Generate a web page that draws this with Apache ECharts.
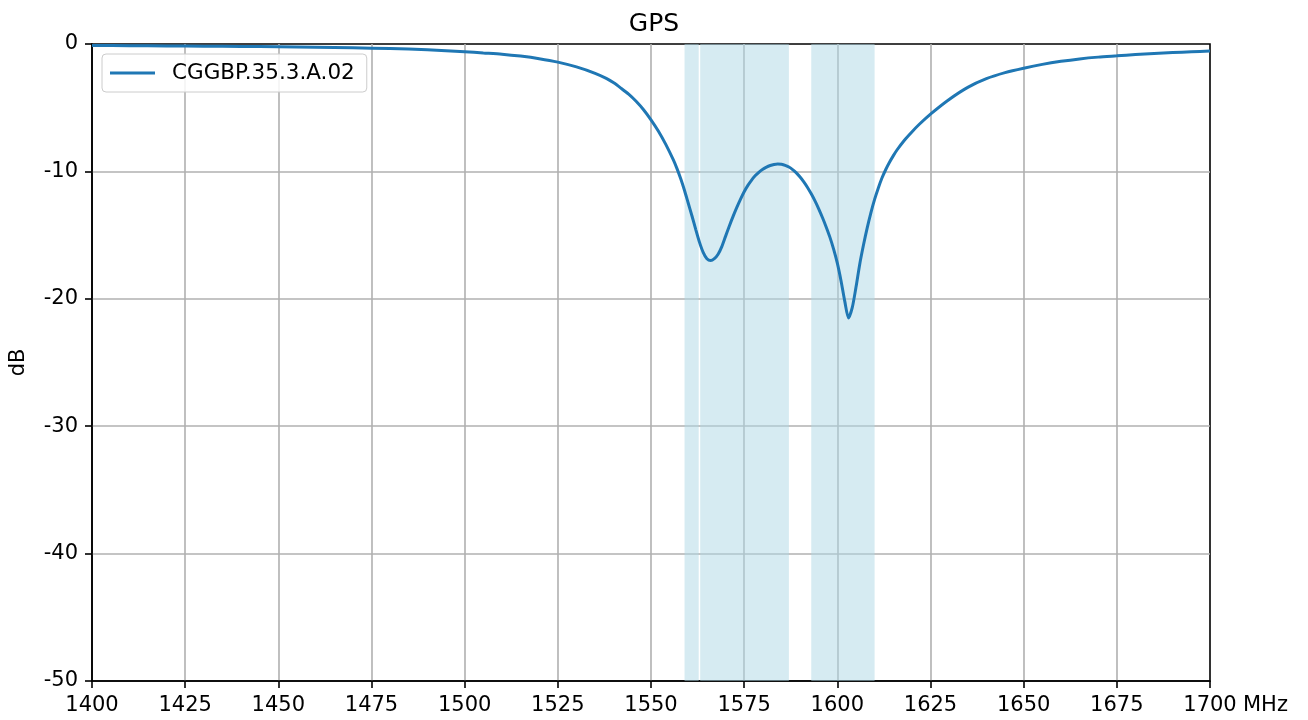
<!DOCTYPE html>
<html>
<head>
<meta charset="utf-8">
<script src="https://cdn.jsdelivr.net/npm/echarts@6/dist/echarts.min.js"></script>
<style>html,body{margin:0;padding:0;background:#fff;}#c{width:1308px;height:720px;}</style>
</head>
<body>
<div id="c"></div>
<script>
const freqs = [1400,1410,1420,1430,1440,1450,1460,1470,1480,1490,1500,1505,1510,1515,1520,1525,1530,1535,1538,1540,1542,1544,1546,1548,1550,1552,1554,1556,1557,1558,1559,1560,1561,1562,1563,1564,1565,1566,1567,1568,1569,1570,1571,1572,1573,1574,1575,1576,1577,1578,1579,1580,1581,1582,1583,1584,1585,1586,1587,1588,1589,1590,1591,1592,1593,1594,1595,1596,1597,1598,1599,1600,1601,1602,1603,1604,1605,1606,1607,1608,1609,1610,1611,1612,1613,1614,1615,1616,1618,1620,1622,1625,1630,1635,1640,1645,1650,1655,1660,1665,1670,1675,1680,1685,1690,1695,1700];
const gainDb = [-0.12,-0.13,-0.15,-0.17,-0.19,-0.21,-0.25,-0.3,-0.36,-0.45,-0.6,-0.7,-0.8,-0.95,-1.15,-1.42,-1.8,-2.3,-2.7,-3.05,-3.48,-3.94,-4.5,-5.16,-5.95,-6.85,-7.9,-9.1,-9.8,-10.6,-11.5,-12.5,-13.5,-14.55,-15.55,-16.35,-16.85,-17.0,-16.85,-16.5,-15.9,-15.1,-14.3,-13.55,-12.85,-12.2,-11.6,-11.1,-10.68,-10.33,-10.05,-9.83,-9.66,-9.54,-9.46,-9.42,-9.44,-9.52,-9.66,-9.86,-10.12,-10.44,-10.82,-11.26,-11.76,-12.32,-12.94,-13.62,-14.36,-15.16,-16.1,-17.2,-18.6,-20.2,-21.5,-20.7,-19.1,-17.3,-15.8,-14.45,-13.25,-12.2,-11.3,-10.5,-9.85,-9.28,-8.78,-8.32,-7.55,-6.9,-6.3,-5.5,-4.35,-3.4,-2.72,-2.25,-1.9,-1.6,-1.36,-1.17,-1.03,-0.93,-0.83,-0.74,-0.67,-0.61,-0.55];
const bandStarts = [1559, 1563.2, 1593];
const bandEnds = [1562.8, 1587, 1610];
const seriesName = 'CGGBP.35.3.A.02';
const titleText = 'GPS';
const xUnit = 'MHz';
const yName = 'dB';

const FONT = 'DejaVu Sans';
const chart = echarts.init(document.getElementById('c'), null, {renderer: 'canvas'});
const lineData = freqs.map((f, i) => [f, gainDb[i]]);
const areas = bandStarts.map((s, i) => [{xAxis: s}, {xAxis: bandEnds[i]}]);

chart.setOption({
  animation: false,
  backgroundColor: '#ffffff',
  title: {
    text: titleText, left: 'center', top: 7,
    textStyle: {fontFamily: FONT, fontSize: 25, fontWeight: 'normal', color: '#000'}
  },
  legend: {
    data: [{name: seriesName, icon: 'rect'}],
    left: 102, top: 54,
    itemWidth: 45, itemHeight: 3,
    padding: [8, 12, 8, 8],
    backgroundColor: 'rgba(255,255,255,0.85)',
    borderColor: '#cccccc', borderWidth: 1, borderRadius: 4,
    textStyle: {fontFamily: FONT, fontSize: 21.5, color: '#000', padding: [0, 0, 0, 12]}
  },
  grid: {
    left: 92, right: 98, top: 44, bottom: 39,
    show: true, borderColor: '#000', borderWidth: 1.6, backgroundColor: 'transparent'
  },
  xAxis: {
    type: 'value', min: 1400, max: 1700, interval: 25,
    name: xUnit, nameLocation: 'end', nameGap: 33, nameMoveOverlap: false,
    nameTextStyle: {fontFamily: FONT, fontSize: 21, color: '#000', verticalAlign: 'top', padding: [14, 0, 0, 0]},
    axisLine: {show: true, onZero: false, lineStyle: {color: '#000', width: 1.6}},
    axisTick: {show: true, inside: false, length: 7, lineStyle: {color: '#000', width: 1.6}},
    axisLabel: {fontFamily: FONT, fontSize: 21, color: '#000', margin: 14, formatter: v => String(v)},
    splitLine: {show: true, showMinLine: false, showMaxLine: false, lineStyle: {color: '#b0b0b0', width: 1.6}}
  },
  yAxis: {
    type: 'value', min: -50, max: 0, interval: 10,
    name: yName, nameLocation: 'middle', nameGap: 63, nameRotate: 90, nameMoveOverlap: false,
    nameTextStyle: {fontFamily: FONT, fontSize: 21, color: '#000'},
    axisLine: {show: true, onZero: false, lineStyle: {color: '#000', width: 1.6}},
    axisTick: {show: true, inside: false, length: 7, lineStyle: {color: '#000', width: 1.6}},
    axisLabel: {fontFamily: FONT, fontSize: 21, color: '#000', margin: 14, formatter: v => String(v)},
    splitLine: {show: true, showMinLine: false, showMaxLine: false, lineStyle: {color: '#b0b0b0', width: 1.6}}
  },
  series: [{
    name: seriesName,
    type: 'line',
    data: lineData,
    showSymbol: false,
    smooth: 0.25,
    lineStyle: {color: '#1f77b4', width: 3},
    itemStyle: {color: '#1f77b4'},
    z: 3,
    markArea: {
      silent: true,
      itemStyle: {color: 'rgba(173,216,230,0.5)'},
      data: areas
    }
  }]
});
</script>
</body>
</html>
